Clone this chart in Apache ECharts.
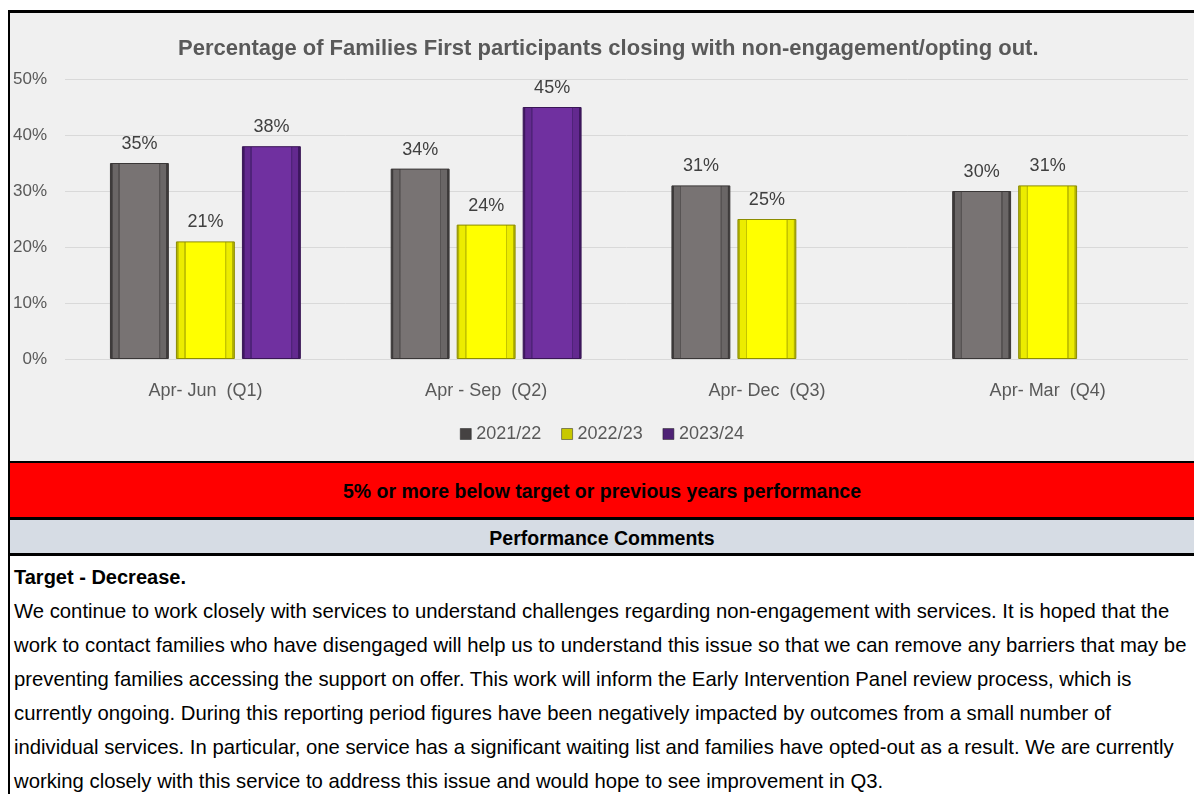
<!DOCTYPE html>
<html>
<head>
<meta charset="utf-8">
<script src="https://cdn.jsdelivr.net/npm/echarts@6/dist/echarts.min.js"></script>
<style>
  html, body { margin: 0; padding: 0; background: #fff; }
  body { width: 1194px; height: 794px; position: relative; overflow: hidden; font-family: 'Liberation Sans', Arial, sans-serif; }
  .line { position: absolute; background: #000; }
  #main { position: absolute; left: 10px; top: 13px; width: 1184px; height: 448px; }
  .band { position: absolute; left: 10px; width: 1184px; text-align: center; font-weight: bold; font-size: 19.5px; color: #000; }
  #comments { position: absolute; left: 14px; top: 560px; font-size: 20.3px; line-height: 34px; color: #000; white-space: nowrap; }
  #comments b { font-size: 20px; }
</style>
</head>
<body>
<div class="line" style="left:8px;top:10px;width:1186px;height:3px"></div>
<div class="line" style="left:8px;top:10px;width:2px;height:784px"></div>
<div id="main"></div>
<div class="line" style="left:8px;top:461px;width:1186px;height:2px"></div>
<div class="band" style="top:463px;height:54px;line-height:56px;background:#ff0000">5% or more below target or previous years performance</div>
<div class="line" style="left:8px;top:517px;width:1186px;height:3px"></div>
<div class="band" style="top:520px;height:33px;line-height:36px;background:#d6dce4">Performance Comments</div>
<div class="line" style="left:8px;top:553px;width:1186px;height:3px"></div>
<div id="comments">
  <b>Target - Decrease.</b><br>
  We continue to work closely with services to understand challenges regarding non-engagement with services. It is hoped that the<br>
  work to contact families who have disengaged will help us to understand this issue so that we can remove any barriers that may be<br>
  preventing families accessing the support on offer. This work will inform the Early Intervention Panel review process, which is<br>
  currently ongoing. During this reporting period figures have been negatively impacted by outcomes from a small number of<br>
  individual services. In particular, one service has a significant waiting list and families have opted-out as a result. We are currently<br>
  working closely with this service to address this issue and would hope to see improvement in Q3.
</div>
<script>
const quarters = ['Apr- Jun  (Q1)', 'Apr - Sep  (Q2)', 'Apr- Dec  (Q3)', 'Apr- Mar  (Q4)']
const years = ['2021/22', '2022/23', '2023/24']
const fy2122 = [35, 34, 31, 30]
const fy2223 = [21, 24, 25, 31]
const fy2324 = [38, 45, null, null]
const yTicks = [0, 10, 20, 30, 40, 50]

const font = 'Liberation Sans'
const chart = echarts.init(document.getElementById('main'))

// bevel-ish fill: dark outer edge, frame, thin inner line on each side
function bevel(edge, frame, base, line) {
  return new echarts.graphic.LinearGradient(0, 0, 1, 0, [
    { offset: 0, color: edge },
    { offset: 0.04, color: edge },
    { offset: 0.05, color: frame },
    { offset: 0.14, color: frame },
    { offset: 0.145, color: line },
    { offset: 0.165, color: line },
    { offset: 0.17, color: base },
    { offset: 0.83, color: base },
    { offset: 0.835, color: line },
    { offset: 0.855, color: line },
    { offset: 0.86, color: frame },
    { offset: 0.95, color: frame },
    { offset: 0.96, color: edge },
    { offset: 1, color: edge }
  ])
}

const styles = [
  { fill: bevel('#3e3b3b', '#6a6666', '#787373', '#575353'), border: '#3a3737', legend: '#454242' },
  { fill: bevel('#b4b400', '#ecec00', '#ffff00', '#c4c400'), border: '#8c8c00', legend: '#c8c800' },
  { fill: bevel('#3e1760', '#63298f', '#7030a0', '#4f2379'), border: '#3a1656', legend: '#4e2275' }
]
const seriesData = [fy2122, fy2223, fy2324]

chart.setOption({
  backgroundColor: '#f0f0f0',
  animation: false,
  title: {
    text: 'Percentage of Families First participants closing with non-engagement/opting out.',
    left: 168,
    top: 20,
    padding: [5, 0, 5, 0],
    textStyle: { fontFamily: font, fontSize: 22, fontWeight: 'bold', color: '#595959' }
  },
  legend: {
    top: 407,
    left: 'center',
    itemWidth: 11,
    itemHeight: 11,
    itemGap: 20,
    icon: 'rect',
    textStyle: { fontFamily: font, fontSize: 18, color: '#595959' },
    data: years.map((y, i) => ({ name: y, itemStyle: { color: styles[i].legend, borderColor: '#222', borderWidth: 0.5 } }))
  },
  grid: { left: 53, right: 6, top: 66, bottom: 102 },
  xAxis: {
    type: 'category',
    data: quarters,
    axisLine: { show: false },
    axisTick: { show: false },
    axisLabel: { margin: 23, fontFamily: font, fontSize: 18, color: '#595959' }
  },
  yAxis: {
    type: 'value',
    min: yTicks[0],
    max: yTicks[yTicks.length - 1],
    interval: 10,
    axisLabel: { formatter: '{value}%', margin: 18, fontFamily: font, fontSize: 17, color: '#595959' },
    splitLine: { lineStyle: { color: '#d9d9d9', width: 1 } }
  },
  series: years.map((y, i) => ({
    name: y,
    type: 'bar',
    data: seriesData[i],
    barGap: '12%',
    barCategoryGap: '32%',
    itemStyle: { color: styles[i].fill, borderColor: styles[i].border, borderWidth: 1 },
    label: {
      show: true,
      position: 'top',
      distance: 10,
      formatter: '{c}%',
      fontFamily: font,
      fontSize: 18,
      color: '#404040'
    }
  }))
})
</script>
</body>
</html>
